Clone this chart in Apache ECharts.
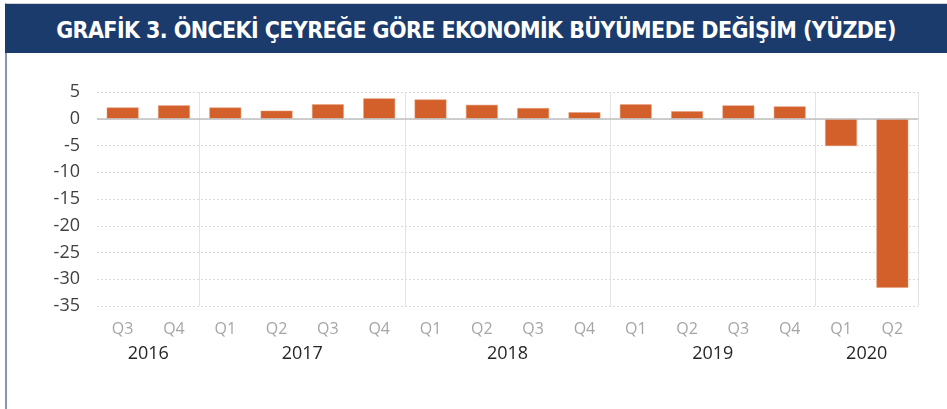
<!DOCTYPE html>
<html>
<head>
<meta charset="utf-8">
<script src="https://cdn.jsdelivr.net/npm/echarts@6/dist/echarts.min.js"></script>
<style>
  html, body { margin: 0; padding: 0; background: #fff; }
  .panel { position: absolute; left: 5px; top: 3px; width: 942px; height: 406px; border-left: 2px solid #8596b3; border-top: 1px solid #d0d4da; }
  .head { position: absolute; left: 5px; top: 4px; width: 942px; height: 49px; background: #1b3b6d; color: #fff;
    font-family: "DejaVu Sans Condensed", "DejaVu Sans", sans-serif; font-weight: bold; font-size: 23px; line-height: 52px; text-align: center; letter-spacing: -0.6px; }
  #chart { position: absolute; left: 0; top: 0; width: 947px; height: 409px; }
</style>
</head>
<body>
<div class="panel"></div>
<div class="head">GRAFİK 3. ÖNCEKİ ÇEYREĞE GÖRE EKONOMİK BÜYÜMEDE DEĞİŞİM (YÜZDE)</div>
<div id="chart"></div>
<script>
// çeyreklik büyüme (%)
const quarters = ["Q3", "Q4", "Q1", "Q2", "Q3", "Q4", "Q1", "Q2", "Q3", "Q4", "Q1", "Q2", "Q3", "Q4", "Q1", "Q2"];
const growth = [2.1, 2.5, 2.1, 1.5, 2.7, 3.8, 3.6, 2.6, 2.0, 1.2, 2.7, 1.4, 2.5, 2.3, -5.1, -31.6];
// yıl etiketleri, çeyrek ekseninde ortalandığı konumlar
const years = ["2016", "2017", "2018", "2019", "2020"];
const yearPos = [1, 4, 8, 12, 15];
// yıl ayırıcı çizgilerin düştüğü çeyrek indeksleri
const yearStart = [2, 6, 10, 14];

const font = '"Open Sans", sans-serif';
const chart = echarts.init(document.getElementById("chart"));

chart.setOption({
  animation: false,
  grid: { left: 97, right: 29, top: 92, bottom: 103 },
  xAxis: [
    {
      type: "category",
      data: quarters,
      axisLine: { show: false, onZero: false },
      axisTick: { show: false },
      axisLabel: { color: "#a6a6a6", fontSize: 16, fontFamily: font, margin: 15 },
      splitLine: {
        show: true,
        interval: function (index) {
          return yearStart.indexOf(index) >= 0;
        },
        lineStyle: { color: "#e3e3e3", width: 1 }
      }
    },
    {
      type: "value",
      position: "bottom",
      min: 0,
      max: quarters.length,
      interval: 1,
      axisLine: { show: false, onZero: false },
      axisTick: { show: false },
      splitLine: { show: false },
      axisLabel: {
        color: "#262626",
        fontSize: 18,
        fontFamily: font,
        margin: 39,
        showMinLabel: true,
        showMaxLabel: true,
        formatter: function (v) {
          const i = yearPos.indexOf(v);
          return i >= 0 ? years[i] : "";
        }
      }
    }
  ],
  yAxis: {
    type: "value",
    min: -35,
    max: 5,
    interval: 5,
    axisLine: { show: false },
    axisTick: { show: false },
    axisLabel: { color: "#404040", fontSize: 18, fontFamily: font, margin: 17 },
    splitLine: { lineStyle: { color: "#d9d9d9", type: [2, 2], width: 1 } }
  },
  series: [
    {
      type: "bar",
      data: growth,
      barCategoryGap: "38%",
      itemStyle: { color: "#d3602a", borderColor: "#e39b76", borderWidth: 0.5 },
      markLine: {
        silent: true,
        symbol: "none",
        label: { show: false },
        lineStyle: { color: "#bfbfbf", type: "solid", width: 1.5 },
        data: [{ yAxis: 0 }]
      }
    }
  ]
});
</script>
</body>
</html>
